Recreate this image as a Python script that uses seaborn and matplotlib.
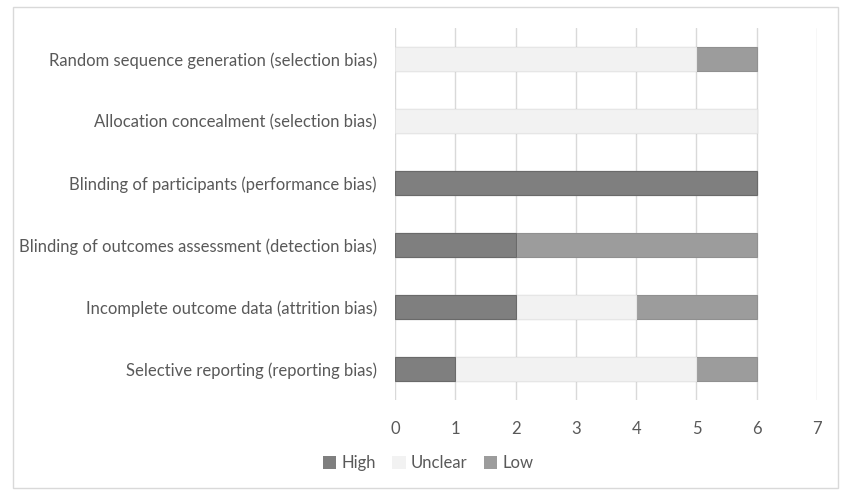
import numpy as np
import pandas as pd
import matplotlib.pyplot as plt
import seaborn as sns
from matplotlib.patches import Rectangle, Patch

# 数据
domains = [
    'Random sequence generation (selection bias)',
    'Allocation concealment (selection bias)',
    'Blinding of participants (performance bias)',
    'Blinding of outcomes assessment (detection bias)',
    'Incomplete outcome data (attrition bias)',
    'Selective reporting (reporting bias)',
]
high = [0, 0, 6, 2, 2, 1]
unclear = [5, 6, 0, 0, 2, 4]
low = [1, 0, 0, 4, 2, 1]

colors = {'High': '#7f7f7f', 'Unclear': '#f2f2f2', 'Low': '#9c9c9c'}
edges = {'High': '#6a6a6a', 'Unclear': '#e6e6e6', 'Low': '#909090'}

df = pd.DataFrame({'Domain': domains, 'High': high, 'Unclear': unclear, 'Low': low})
df['c_high'] = df['High']
df['c_unclear'] = df['High'] + df['Unclear']
df['c_low'] = df['c_unclear'] + df['Low']
# 宽度为 0 的柱子不画
for c in ['c_high', 'c_unclear', 'c_low']:
    df[c] = df[c].where(df[c] > 0, np.nan)

sns.set_style('white')
plt.rcParams['font.family'] = ['Lato', 'DejaVu Sans']

fig = plt.figure(figsize=(8.42, 4.9), dpi=100)
ax = fig.add_axes([395 / 842, 1 - 400 / 490, 422 / 842, 372 / 490])

# 叠加画累计柱（从长到短）
for col, key in [('c_low', 'Low'), ('c_unclear', 'Unclear'), ('c_high', 'High')]:
    sns.barplot(data=df, y='Domain', x=col, order=domains, orient='h',
                color=colors[key], edgecolor=edges[key], linewidth=0.8,
                width=0.4, saturation=1, ax=ax)

ax.set_xlim(0, 7)
ax.set_ylim(5.5, -0.5)
ax.set_xticks(range(0, 8))
ax.xaxis.grid(True, color='#d9d9d9', linewidth=1)
ax.set_axisbelow(True)
for s in ['top', 'right', 'bottom', 'left']:
    ax.spines[s].set_visible(False)
ax.set_xlabel('')
ax.set_ylabel('')
ax.tick_params(axis='both', length=0, labelsize=12, colors='#595959')
ax.tick_params(axis='y', pad=13)
ax.tick_params(axis='x', pad=15)

handles = [Patch(facecolor=colors[k], edgecolor='none', label=k) for k in ['High', 'Unclear', 'Low']]
fig.legend(handles=handles, loc='center', bbox_to_anchor=(428 / 842, 1 - 463 / 490),
           ncol=3, frameon=False, fontsize=12, labelcolor='#595959',
           handlelength=0.8, handleheight=0.8, handletextpad=0.3, columnspacing=1.0)

# 外框
fig.patches.append(Rectangle((13 / 842, 2 / 490), 825 / 842, 481 / 490, transform=fig.transFigure,
                             fill=False, edgecolor='#d9d9d9', linewidth=1))

fig.savefig('out.png', dpi=100)
